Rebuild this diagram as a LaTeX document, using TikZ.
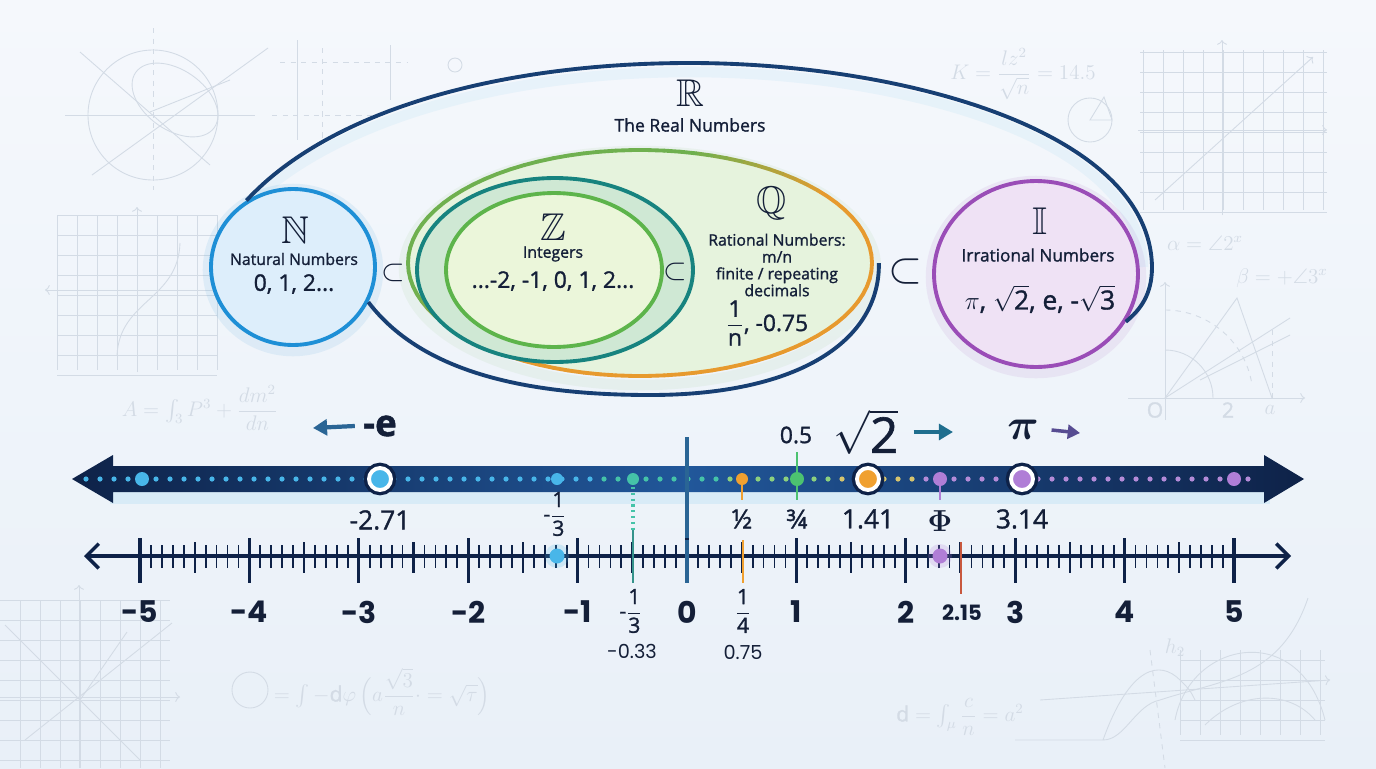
\documentclass[tikz,border=0pt]{standalone}
\usepackage{amsmath}
\usepackage{amssymb}
\usepackage{fontspec}
\setmainfont{Open Sans}[RawFeature={embolden=1.3}]
\newfontfamily\numfont{Poppins}
\usetikzlibrary{shapes.geometric,arrows.meta,positioning}

\definecolor{ink}{HTML}{141F38}
\definecolor{bgtop}{HTML}{F5F8FC}
\definecolor{bgbot}{HTML}{E9F0F8}
\definecolor{faintc}{HTML}{D3DBE5}
\definecolor{rnavy}{HTML}{173F73}
\definecolor{bandL}{HTML}{0E2248}
\definecolor{bandM}{HTML}{21579A}
\definecolor{nblue}{HTML}{1E8FD6}
\definecolor{nfill}{HTML}{DDEEFB}
\definecolor{zgreen}{HTML}{5DB44B}
\definecolor{zfill}{HTML}{EBF6DA}
\definecolor{zteal}{HTML}{17837F}
\definecolor{tealfill}{HTML}{CFE8D4}
\definecolor{qorange}{HTML}{E79A2E}
\definecolor{qgreen}{HTML}{6FB04F}
\definecolor{qfill}{HTML}{E6F3DD}
\definecolor{ipurple}{HTML}{9A4DB7}
\definecolor{ifill}{HTML}{EFE2F5}
\definecolor{dotc1}{HTML}{48B6E9}
\definecolor{dotc2}{HTML}{45C3A8}
\definecolor{dotc3}{HTML}{8CD07E}
\definecolor{dotc4}{HTML}{D6C46E}
\definecolor{dotc5}{HTML}{B48BD8}
\definecolor{dorange}{HTML}{F0A030}
\definecolor{dgreen}{HTML}{4CC270}
\definecolor{dpurple}{HTML}{B07ED6}
\definecolor{tred}{HTML}{C8583E}
\definecolor{arrblue}{HTML}{2A6595}
\definecolor{arrteal}{HTML}{1F6E8E}
\definecolor{arrpurple}{HTML}{574C92}

\begin{document}
\begin{tikzpicture}[x=0.02cm, y=-0.02cm,
    setnode/.style={ellipse, inner sep=0pt, line width=2.2pt},
    glow/.style={line width=6pt, opacity=.09},
    faint/.style={draw=faintc, line width=0.5pt},
    fainttxt/.style={text=faintc, font=\fontsize{12}{12}\selectfont, inner sep=0pt},
    rline/.style={draw=rnavy, line width=2.2pt},
    txt/.style={font=\fontsize{9}{9.6}\selectfont, text=ink, inner sep=0pt, align=center},
    sym/.style={font=\fontsize{22}{24}\selectfont, text=ink, inner sep=0pt},
    big/.style={font=\fontsize{13}{14}\selectfont, text=ink, inner sep=0pt},
    intlab/.style={font=\numfont\bfseries\fontsize{17}{17}\selectfont, text=ink, inner sep=0pt},
    ptlab/.style={font=\fontsize{15}{16}\selectfont, text=ink, inner sep=0pt},
    smlab/.style={font=\numfont\fontsize{11}{11}\selectfont, text=ink, inner sep=0pt},
    tickline/.style={draw=bandL},
    dotmark/.style={circle, inner sep=0pt, minimum size=0.28cm, fill=#1},
    ringmark/.style={circle, inner sep=0pt, minimum size=0.44cm, fill=#1, draw=white,
      line width=2.2pt, preaction={draw=bandL, line width=6pt}},
    stem/.style={line width=1.3pt}
  ]
  \shade[top color=bgtop, bottom color=bgbot] (0,0) rectangle (1376,768);
  \useasboundingbox (0,0) rectangle (1376,768);

  % faint sketches in the background
  \draw[faint] (153,115) circle (65);
  \draw[faint] (65,115) -- (255,115);
  \draw[faint, dashed] (153,28) -- (153,190);
  \draw[faint] (80,52) -- (210,165);
  \draw[faint] (92,175) -- (268,48);
  \draw[faint] (150,112) -- (230,80);
  \draw[faint, rotate around={-35:(175,100)}] (175,100) ellipse (48 and 30);
  \draw[faint, dashed] (280,62) -- (408,62);
  \draw[faint, dashed] (272,115) -- (375,115);
  \draw[faint] (297,40) -- (297,140);
  \draw[faint, dashed] (322,48) -- (322,140);
  \draw[faint] (390,45) -- (390,100);
  \draw[faint] (455,65) circle (7);
  \foreach \gx in {57,77,...,217} \draw[faint] (\gx,215) -- (\gx,370);
  \foreach \gy in {215,235,...,375} \draw[faint] (57,\gy) -- (217,\gy);
  \draw[faint, ->] (137,372) -- (137,207);
  \draw[faint, ->] (215,290) -- (45,290);
  \draw[faint] (117,355) .. controls (120,300) and (178,300) .. (180,243);
  \node[fainttxt] (formA) at (200,408) {$A=\int_3 P^3 + \dfrac{dm^2}{dn}$};
  \node[fainttxt] (formK) at (1023,74) {$K=\dfrac{lz^2}{\sqrt{n}}=14.5$};
  \draw[faint] (1090,120) circle (22);
  \draw[faint] (1090,120) -- (1112,120) -- (1104,97) -- cycle;
  \foreach \gx in {1143,1163,...,1323} \draw[faint] (\gx,50) -- (\gx,210);
  \foreach \gy in {52,72,...,212} \draw[faint] (1140,\gy) -- (1327,\gy);
  \draw[faint, ->] (1222,215) -- (1222,40);
  \draw[faint, ->] (1138,130) -- (1327,130);
  \draw[faint, ->] (1155,200) -- (1313,57);
  \node[fainttxt] (formAl) at (1205,243) {$\alpha=\angle 2^x$};
  \node[fainttxt] (formBe) at (1282,278) {$\beta=+\angle 3^x$};
  \draw[faint, ->] (1128,398) -- (1305,398);
  \draw[faint, ->] (1165,420) -- (1165,282);
  \draw[faint] (1165,398) -- (1237,298) -- (1272,398);
  \draw[faint] (1165,398) -- (1290,318);
  \draw[faint] (1200,380) -- (1290,335);
  \draw[faint] (1165,350) arc[start angle=-90, end angle=0, radius=48];
  \draw[faint, dashed] (1165,310) arc[start angle=-90, end angle=-10, radius=88];
  \draw[faint, dashed] (1272,330) -- (1272,398);
  \node[fainttxt] (oLab) at (1155,410) {O};
  \node[fainttxt] (twoLab) at (1228,410) {2};
  \node[fainttxt] (aLab) at (1270,410) {$a$};
  \foreach \gx in {20,40,...,160} \draw[faint] (\gx,600) -- (\gx,768);
  \foreach \gy in {600,620,...,760} \draw[faint] (0,\gy) -- (170,\gy);
  \draw[faint, ->] (0,697) -- (180,697);
  \draw[faint, ->] (79,768) -- (79,585);
  \draw[faint] (5,625) -- (140,760);
  \draw[faint] (25,740) -- (172,623);
  \draw[faint] (80,700) -- (127,632);
  \draw[faint] (250,690) circle (18);
  \node[fainttxt] (formB) at (382,692) {$=\int -\mathrm{d}\varphi\,\Bigl(a\dfrac{\sqrt{3}}{n}\cdot=\sqrt{\tau}\Bigr)$};
  \node[fainttxt] (formD) at (960,717) {$\mathrm{d}=\int_{\mu}\dfrac{c}{n}=a^2$};
  \node[fainttxt] (formH) at (1175,648) {$h_2$};
  \foreach \gx in {1180,1200,...,1320} \draw[faint] (\gx,650) -- (\gx,735);
  \foreach \gy in {660,680,...,740} \draw[faint] (1180,\gy) -- (1325,\gy);
  \draw[faint, ->] (1040,700) -- (1330,680);
  \draw[faint] (1015,740) -- (1103,740) .. controls (1125,740) and (1135,705) .. (1160,700) .. controls (1220,680) and (1280,680) .. (1308,598);
  \draw[faint] (1103,740) .. controls (1130,665) and (1160,660) .. (1180,680) .. controls (1190,690) .. (1195,700);
  \draw[faint] (1175,720) .. controls (1190,640) and (1300,620) .. (1325,720);
  \draw[faint] (1205,725) .. controls (1240,690) and (1290,690) .. (1315,720);
  \draw[faint, dashed] (1150,650) -- (1165,768);

  % glows
  \draw[glow, nblue] (293,270) ellipse (85 and 81);
  \draw[glow, qgreen, opacity=.07] (640,268) ellipse (236 and 117);
  \draw[glow, ipurple] (1036,277) ellipse (105 and 96);
  \draw[glow, dotc1, opacity=.07] (246,207) .. controls (330,122) and (500,72) .. (690,72) .. controls (900,72) and (1140,137) .. (1143,267);

  % sets
  \node[setnode, fill=qfill, minimum width=9.28cm, minimum height=4.52cm] (ratQ) at (640,263) {};
  \foreach \a in {0,4,...,356}{
    \pgfmathtruncatemacro\p{max(0,min(100,(100-abs(\a-135))*2.5))}
    \draw[line width=2.2pt, line cap=round, draw=qgreen!\p!qorange]
      ({640+232*cos(\a)},{263-113*sin(\a)}) -- ({640+232*cos(\a+4)},{263-113*sin(\a+4)});
  }
  \node[setnode, draw=zteal, fill=tealfill, minimum width=5.52cm, minimum height=3.68cm] (intT) at (555,270) {};
  \node[setnode, draw=zgreen, fill=zfill, minimum width=4.32cm, minimum height=3.08cm] (intZ) at (554,270) {};
  \node[setnode, draw=nblue, fill=nfill, minimum width=3.28cm, minimum height=3.12cm] (natN) at (293,267) {};
  \node[setnode, draw=ipurple, fill=ifill, minimum width=4.08cm, minimum height=3.72cm] (irrI) at (1036,274) {};

  % the real numbers outline
  \draw[rline] (natN.125) .. controls (330,110) and (500,63) .. (690,63)
    .. controls (900,63) and (1150,130) .. (1152,267)
    .. controls (1152,295) and (1140,310) .. (irrI.-28);
  \draw[rline] (natN.-25) .. controls (420,370) and (520,395) .. (650,395)
    .. controls (800,395) and (880,340) .. ([xshift=0.1cm]ratQ.east);

  % texts of the sets
  \node[sym] (symR) at (690,93) {$\mathbb{R}$};
  \node[txt, font=\fontsize{10}{11}\selectfont] (realR) at (690,125) {The Real Numbers};
  \node[sym] (symN) at (295,230) {$\mathbb{N}$};
  \node[txt] (natL) at (294,259) {Natural Numbers};
  \node[big] (natE) at (294,284) {0, 1, 2...};
  \node[sym] (symZ) at (553,227) {$\mathbb{Z}$};
  \node[txt] (intL) at (553,254) {Integers};
  \node[big] (intE) at (553,281) {...-2, -1, 0, 1, 2...};
  \node[sym] (symQ) at (772,203) {$\mathbb{Q}$};
  \node[txt] (ratL) at (777,265) {Rational Numbers:\\m/n\\finite / repeating\\decimals};
  \node[big] (ratE) at (767,323) {$\dfrac{\text{1}}{\text{n}}$, -0.75};
  \node[sym] (symI) at (1040,221) {$\mathbb{I}$};
  \node[txt, font=\fontsize{9.8}{10}\selectfont] (irrL) at (1038,255) {Irrational Numbers};
  \node[big, font=\fontsize{15}{16}\selectfont] (irrE) at (1040,299) {$\pi$, $\sqrt{\text{2}}$, e, -$\sqrt{\text{3}}$};
  \node[big, font=\fontsize{16}{16}\selectfont] (subNZ) at (393,273) {$\subset$};
  \node[big, font=\fontsize{16}{16}\selectfont] (subZQ) at (675,272) {$\subset$};
  \node[big, font=\fontsize{24}{24}\selectfont] (subQI) at (905,272) {$\subset$};

  % upper line
  \draw[line width=14pt, dotc1, opacity=.12] (110,492) -- (1270,492);
  \shade[left color=bandL, right color=bandL, middle color=bandM]
    (72,479) -- (113,455) -- (113,466) -- (1264,466) -- (1264,455) -- (1304,479)
    -- (1264,503) -- (1264,492) -- (113,492) -- (113,503) -- cycle;
  \foreach \d in {86,100,...,1254}{
    \pgfmathtruncatemacro\z{\d<600 ? 1 : (\d<720 ? 2 : (\d<830 ? 3 : (\d<925 ? 4 : 5)))}
    \fill[fill=dotc\z] (\d,479) circle (2.6);
  }
  \draw[line width=2.2pt, draw=arrblue] (687,437) -- (687,583);
  \draw[stem, dotted, draw=dotc2, line width=1.8pt] (633,487) -- (633,532);
  \draw[stem, draw=dorange] (742,479) -- (742,500);
  \draw[stem, draw=dgreen] (797,452) -- (797,500);
  \draw[stem, draw=dpurple] (940,479) -- (940,500);
  \node[dotmark=dotc1] (dotA) at (142,479) {};
  \node[ringmark=dotc1] (ringE) at (380,479) {};
  \node[dotmark=dotc1, minimum size=0.24cm] (dotB) at (557,479) {};
  \node[dotmark=dotc2, minimum size=0.24cm] (dotC) at (633,479) {};
  \node[dotmark=dorange, minimum size=0.24cm] (dotHalf) at (742,479) {};
  \node[dotmark=dgreen] (dotQuart) at (797,479) {};
  \node[ringmark=dorange] (ringSq) at (868,479) {};
  \node[dotmark=dpurple] (dotPhi) at (940,479) {};
  \node[ringmark=dpurple] (ringPi) at (1022,479) {};
  \node[dotmark=dpurple] (dotEnd) at (1234,479) {};

  \node[font=\bfseries\fontsize{21}{21}\selectfont, text=ink, inner sep=0pt] (negE) at (380,426) {-e};
  \coordinate (eArr) at (313,428);
  \draw[-{Triangle[length=8pt,width=9pt]}, line width=2.4pt, draw=arrblue] ([xshift=-0.16cm]negE.west) -- (eArr);
  \node[font=\fontsize{28}{28}\selectfont, text=ink, inner sep=0pt] (sqrtT) at (866,432) {$\sqrt{\text{2}}$};
  \coordinate (sqArr) at (953,432);
  \draw[-{Triangle[length=8pt,width=9pt]}, line width=2.4pt, draw=arrteal] ([xshift=0.3cm]sqrtT.east) -- (sqArr);
  \node[font=\fontsize{32}{32}\selectfont, text=ink, inner sep=0pt] (piT) at (1023,430) {$\boldsymbol{\pi}$};
  \coordinate (piArr) at (1080,433);
  \draw[-{Triangle[length=7pt,width=8pt]}, line width=2pt, draw=arrpurple] ([xshift=0.25cm]piT.east) -- (piArr);
  \node[ptlab, font=\fontsize{13}{13}\selectfont] (halfT) at (796,435) {0.5};

  \node[ptlab] (labE) at (380,520) {-2.71};
  \node[ptlab, font=\fontsize{12}{12}\selectfont] (labThird) at (555,514) {-$\dfrac{\text{1}}{\text{3}}$};
  \node[ptlab] (labHalf) at (742,519) {½};
  \node[ptlab] (labQuart) at (797,519) {¾};
  \node[ptlab] (labSq) at (868,519) {1.41};
  \node[ptlab, font=\fontsize{19}{19}\selectfont] (labPhi) at (940,521) {$\boldsymbol{\Phi}$};
  \node[ptlab] (labPi) at (1022,519) {3.14};

  % lower line
  \coordinate (lineL) at (84,556);
  \coordinate (lineR) at (1291,556);
  \draw[line width=2pt, draw=bandL, {Straight Barb[length=7pt,width=14pt]}-{Straight Barb[length=7pt,width=14pt]}] (lineL) -- (lineR);
  \foreach \i in {-50,...,50}{
    \pgfmathtruncatemacro\m{mod(abs(\i),10)==0 ? 2 : (mod(abs(\i),5)==0 ? 1 : 0)}
    \ifcase\m
      \draw[tickline, line width=1pt] ({687+10.94*\i},545) -- ({687+10.94*\i},568);
    \or
      \draw[tickline, line width=1.3pt] ({687+10.94*\i},542) -- ({687+10.94*\i},573);
    \or
      \draw[tickline, line width=1.8pt] ({687+10.94*\i},538) -- ({687+10.94*\i},583);
    \fi
  }
  \draw[line width=1.5pt, draw=dotc2!70!bandL] (633,530) -- (633,583);
  \draw[line width=1.5pt, draw=dorange] (743,540) -- (743,583);
  \draw[line width=1.5pt, draw=tred] (961,542) -- (961,594);
  \draw[line width=2.2pt, draw=arrblue] (687,540) -- (687,583);
  \node[dotmark=dotc1, minimum size=0.3cm, preaction={draw=dotc1, line width=5pt, opacity=.2}] (lowB) at (557,556) {};
  \node[dotmark=dpurple, minimum size=0.3cm, preaction={draw=dpurple, line width=5pt, opacity=.2}] (lowPhi) at (940,556) {};

  \foreach \n in {-5,...,5}
    \node[intlab] (int\n) at ({687+109.4*\n},612) {\n};
  \node[ptlab, font=\fontsize{12}{12}\selectfont] (lowThird) at (631,611) {-$\dfrac{\text{1}}{\text{3}}$};
  \node[smlab] (lowThirdV) at (632,651) {-0.33};
  \node[ptlab, font=\fontsize{12}{12}\selectfont] (lowQuart) at (743,611) {$\dfrac{\text{1}}{\text{4}}$};
  \node[smlab] (lowQuartV) at (743,652) {0.75};
  \node[smlab, font=\numfont\bfseries\fontsize{12}{12}\selectfont] (lowTwo) at (962,613) {2.15};
\end{tikzpicture}
\end{document}
